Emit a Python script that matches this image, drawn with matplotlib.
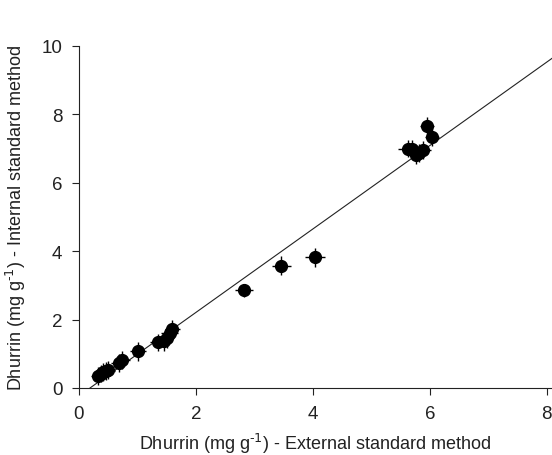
import matplotlib.pyplot as plt

plt.rcParams["font.family"] = ["Liberation Sans", "DejaVu Sans"]

# Dhurrin content, external vs internal standard method (mg/g)
ext_std = [0.33, 0.38, 0.42, 0.47, 0.50, 0.68, 0.74, 1.01, 1.36, 1.45, 1.50, 1.55, 1.60,
           2.82, 3.46, 4.03, 5.62, 5.70, 5.76, 5.82, 5.88, 5.95, 6.03]
int_std = [0.36, 0.42, 0.47, 0.50, 0.52, 0.72, 0.82, 1.07, 1.33, 1.36, 1.45, 1.62, 1.72,
           2.85, 3.58, 3.82, 7.00, 6.98, 6.82, 6.88, 6.95, 7.65, 7.33]
ext_err = [0.12, 0.14, 0.12, 0.14, 0.12, 0.14, 0.14, 0.14, 0.14, 0.14, 0.12, 0.14, 0.12,
           0.15, 0.16, 0.17, 0.17, 0.14, 0.14, 0.14, 0.14, 0.12, 0.12]
int_err = [0.26, 0.26, 0.26, 0.26, 0.26, 0.26, 0.26, 0.28, 0.26, 0.28, 0.28, 0.26, 0.26,
           0.18, 0.28, 0.28, 0.26, 0.26, 0.28, 0.26, 0.26, 0.28, 0.26]

# regression line
fit_x = [0.19, 8.1]
fit_y = [0.0, 9.65]

fig = plt.figure(figsize=(5.52, 4.56), dpi=100)
ax = fig.add_axes([0.143, 0.147, 0.857, 0.75])

ax.plot(fit_x, fit_y, color="#222222", linewidth=0.8, zorder=1)
ax.errorbar(ext_std, int_std, xerr=ext_err, yerr=int_err, fmt="o", color="black",
            markersize=8.5, elinewidth=1.0, capsize=0, zorder=2)

ax.set_xlim(0, 8.09)
ax.set_ylim(0, 10)
ax.set_xticks([0, 2, 4, 6, 8])
ax.set_yticks([0, 2, 4, 6, 8, 10])
ax.spines["top"].set_visible(False)
ax.spines["right"].set_visible(False)
ax.tick_params(direction="out", length=5, width=0.8, labelsize=13.5,
               colors="#222222", pad=7)
for s in ax.spines.values():
    s.set_linewidth(0.8)
    s.set_color("#222222")

ax.set_xlabel(r"Dhurrin (mg g$^{\text{-}1}$) - External standard method", fontsize=13,
              color="#222222", labelpad=7)
ax.set_ylabel(r"Dhurrin (mg g$^{\text{-}1}$) - Internal standard method", fontsize=13,
              color="#222222", labelpad=10)

fig.savefig("out.png", dpi=100)
